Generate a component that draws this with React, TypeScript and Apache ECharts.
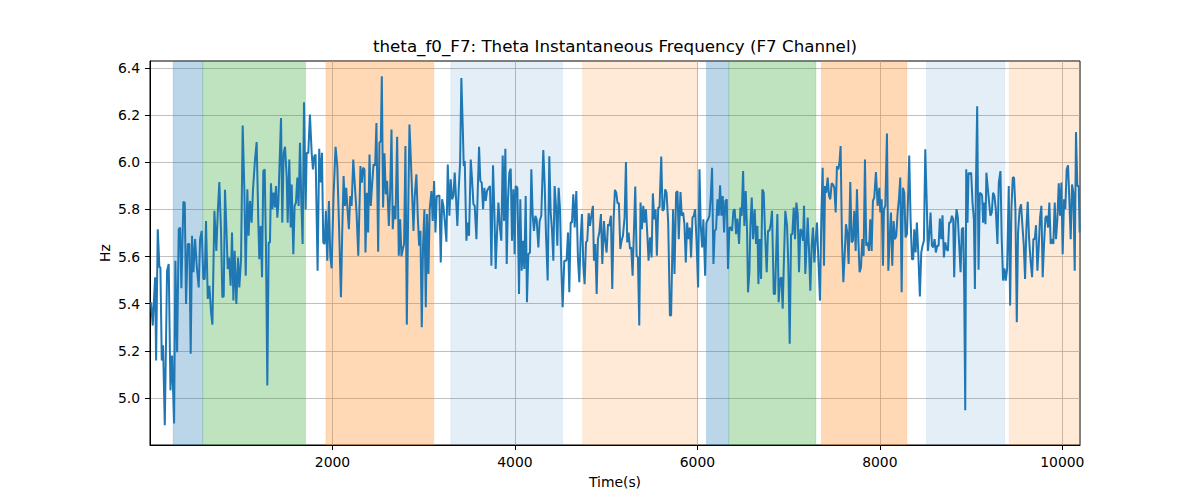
import React, { useEffect, useRef } from "react";
import * as echarts from "echarts";

const TITLE = "theta_f0_F7: Theta Instantaneous Frequency (F7 Channel)";
const X_LABEL = "Time(s)";
const Y_LABEL = "Hz";

const X_MIN = 0;
const X_MAX = 10194;
const X_STEP = 2000;
const Y_MIN = 4.8;
const Y_MAX = 6.43;
const Y_STEP = 0.2;
const xTickValues = [2000, 4000, 6000, 8000, 10000];
const yTickValues = [5.0, 5.2, 5.4, 5.6, 5.8, 6.0, 6.2, 6.4];

const times1 = [12, 30, 56, 67, 85, 103, 114, 129, 143, 162, 187, 205, 224, 242, 264, 278, 297, 315, 330, 344, 366, 381, 395, 414, 432, 446, 461, 476, 494, 512, 534, 549, 567, 585, 600, 614, 633, 651, 669, 684, 706, 727, 742, 760, 779, 793, 808, 822, 837, 852, 866, 884, 899, 914, 928, 946, 965, 979, 998, 1016, 1034, 1049, 1067, 1081, 1096, 1114, 1129, 1151];
const freq1 = [5.406, 5.307, 5.512, 5.159, 5.716, 5.554, 5.554, 5.159, 5.223, 4.884, 5.540, 5.568, 5.032, 5.180, 4.891, 5.582, 5.194, 5.716, 5.723, 5.465, 5.832, 5.829, 5.399, 5.653, 5.653, 5.187, 5.688, 5.533, 5.674, 5.561, 5.469, 5.674, 5.709, 5.505, 5.505, 5.751, 5.420, 5.476, 5.364, 5.311, 5.794, 5.624, 5.780, 5.916, 5.702, 5.427, 5.431, 5.883, 5.723, 5.547, 5.596, 5.476, 5.702, 5.413, 5.624, 5.399, 5.596, 5.469, 5.589, 6.156, 5.885, 5.519, 5.885, 5.688, 5.836, 5.744, 5.885, 6.012];

const times2 = [1169, 1188, 1198, 1213, 1228, 1242, 1257, 1271, 1286, 1301, 1315, 1326, 1341, 1355, 1370, 1381, 1396, 1407, 1436, 1450, 1465, 1480, 1498, 1509, 1527, 1542, 1553, 1571, 1585, 1600, 1615, 1629, 1644, 1658, 1673, 1688, 1706, 1717, 1735, 1753, 1772, 1786, 1801, 1815, 1837, 1855, 1870, 1885, 1899, 1914, 1928, 1943, 1961, 1976, 1991, 2012, 2034, 2053, 2071, 2093, 2107, 2122, 2137, 2151, 2166, 2180, 2195, 2210, 2228, 2246, 2264, 2283];
const freq2 = [6.086, 5.737, 5.589, 5.730, 5.512, 5.963, 5.970, 5.646, 5.053, 5.660, 5.660, 5.911, 5.801, 5.871, 5.808, 5.899, 5.765, 5.829, 6.188, 5.744, 6.040, 6.066, 5.942, 5.744, 6.012, 5.723, 5.906, 5.610, 5.815, 5.829, 5.935, 5.815, 6.083, 5.843, 5.653, 6.255, 5.801, 6.040, 6.040, 6.203, 6.040, 5.970, 6.026, 6.033, 5.540, 6.057, 5.914, 6.040, 5.660, 5.653, 5.794, 5.582, 5.836, 5.603, 5.550, 5.857, 6.066, 5.984, 5.744, 5.427, 5.702, 5.942, 5.815, 5.892, 5.794, 5.716, 5.857, 5.815, 6.012, 5.899, 5.787, 5.603];

const times3 = [2307, 2322, 2336, 2351, 2362, 2377, 2391, 2406, 2420, 2435, 2450, 2468, 2482, 2501, 2515, 2530, 2541, 2555, 2570, 2585, 2599, 2618, 2632, 2647, 2661, 2676, 2691, 2709, 2727, 2742, 2756, 2771, 2785, 2800, 2815, 2829, 2844, 2858, 2873, 2888, 2902, 2920, 2935, 2950, 2964, 2979, 2993, 3008, 3023, 3037, 3052, 3066, 3085, 3099, 3114, 3129, 3143, 3158, 3172, 3187, 3202, 3216, 3234, 3249, 3264, 3282, 3296, 3311, 3326, 3340, 3355, 3369, 3384, 3399, 3413, 3428];
const freq3 = [5.984, 5.914, 5.977, 5.970, 5.617, 5.871, 5.702, 6.033, 5.815, 5.906, 5.991, 5.987, 6.167, 5.620, 6.083, 6.090, 6.365, 5.808, 6.038, 5.864, 5.921, 5.730, 5.871, 6.139, 5.716, 5.815, 5.758, 6.108, 5.603, 5.758, 5.601, 5.632, 5.653, 6.069, 5.311, 5.758, 6.160, 6.026, 5.871, 5.709, 5.857, 5.949, 5.773, 5.646, 5.709, 5.300, 5.646, 5.801, 5.385, 5.780, 5.526, 5.801, 5.878, 5.751, 5.921, 5.702, 5.857, 5.857, 5.860, 5.575, 5.843, 5.815, 5.737, 5.663, 5.991, 5.773, 5.928, 5.843, 5.857, 5.956, 5.843, 5.730, 5.885, 5.998, 6.358, 6.153];

const times4 = [3439, 3450, 3468, 3483, 3497, 3516, 3530, 3545, 3559, 3578, 3592, 3607, 3621, 3636, 3651, 3665, 3680, 3694, 3713, 3727, 3742, 3760, 3775, 3789, 3804, 3819, 3837, 3851, 3866, 3881, 3895, 3910, 3924, 3939, 3954, 3968, 3983, 3997, 4008, 4027, 4045, 4059, 4074, 4089, 4103, 4118, 4132, 4147, 4165, 4180, 4195, 4209, 4224, 4238, 4257, 4271, 4289, 4311, 4326, 4341, 4359, 4377, 4392, 4406, 4421, 4435, 4450, 4465, 4479, 4494, 4508, 4523, 4541, 4560];
const freq4 = [5.984, 6.005, 5.667, 5.744, 5.688, 6.012, 5.928, 5.822, 5.815, 5.674, 5.871, 6.066, 5.921, 5.914, 5.801, 5.892, 5.836, 5.878, 5.892, 5.899, 5.561, 5.987, 5.787, 5.547, 5.702, 5.829, 5.716, 5.667, 6.029, 5.751, 6.057, 5.568, 5.843, 5.956, 5.973, 5.667, 5.885, 5.610, 5.899, 5.892, 5.441, 5.843, 5.540, 5.667, 5.547, 5.857, 5.406, 5.610, 5.617, 5.970, 5.773, 5.709, 5.773, 5.758, 5.639, 5.751, 5.773, 6.052, 5.906, 5.688, 5.498, 6.026, 5.787, 5.716, 5.582, 5.899, 5.815, 5.646, 5.892, 5.801, 5.561, 5.385, 5.582, 5.582];

const times5 = [4567, 4582, 4596, 4611, 4625, 4640, 4655, 4673, 4691, 4706, 4720, 4735, 4750, 4764, 4779, 4793, 4808, 4823, 4837, 4855, 4866, 4881, 4896, 4910, 4925, 4943, 4958, 4976, 4990, 5005, 5020, 5034, 5052, 5067, 5082, 5096, 5111, 5125, 5140, 5155, 5169, 5184, 5202, 5217, 5231, 5246, 5261, 5275, 5290, 5304, 5319, 5334, 5348, 5363, 5377, 5392, 5407, 5421, 5436, 5450, 5465, 5480, 5498, 5512, 5527, 5542, 5556, 5571, 5585, 5604, 5618, 5633, 5647, 5662, 5680, 5699];
const freq5 = [5.589, 5.702, 5.448, 5.744, 5.744, 5.864, 5.723, 5.878, 5.589, 5.491, 5.674, 5.780, 5.561, 5.483, 5.660, 5.667, 5.784, 5.730, 5.773, 5.815, 5.582, 5.653, 5.441, 5.674, 5.702, 5.780, 5.568, 5.751, 5.667, 5.617, 5.737, 5.730, 5.773, 5.462, 5.758, 5.883, 5.871, 5.826, 5.826, 5.632, 5.667, 5.688, 5.765, 6.001, 5.660, 5.702, 5.632, 5.639, 5.519, 5.702, 5.897, 5.603, 5.596, 5.307, 5.829, 5.716, 5.815, 5.744, 5.801, 5.702, 5.582, 5.681, 5.596, 5.868, 5.758, 5.801, 5.603, 5.808, 5.808, 6.024, 5.794, 5.801, 5.885, 5.871, 5.744, 5.350];

const times6 = [5712, 5734, 5749, 5767, 5782, 5796, 5815, 5829, 5844, 5858, 5873, 5888, 5902, 5917, 5931, 5946, 5961, 5975, 5990, 6008, 6023, 6037, 6052, 6066, 6085, 6099, 6117, 6132, 6147, 6161, 6176, 6190, 6205, 6220, 6234, 6249, 6263, 6278, 6293, 6307, 6322, 6336, 6351, 6366, 6380, 6395, 6409, 6424, 6439, 6457, 6472, 6486, 6501, 6515, 6530, 6545, 6555, 6570, 6581, 6596, 6610, 6628, 6643, 6658, 6669, 6683, 6698, 6712, 6727, 6742, 6760, 6774, 6789, 6804, 6818, 6837];
const freq6 = [5.350, 5.801, 5.526, 5.871, 5.878, 5.674, 5.874, 5.773, 5.787, 5.737, 5.575, 5.744, 5.674, 5.723, 5.596, 5.765, 5.773, 5.801, 5.674, 5.469, 5.970, 5.730, 5.639, 5.758, 5.519, 5.744, 5.758, 5.773, 5.857, 5.977, 5.568, 5.709, 5.716, 5.843, 5.773, 5.902, 5.773, 5.857, 5.702, 5.836, 5.843, 5.547, 5.723, 5.723, 5.709, 5.794, 5.801, 5.695, 5.761, 5.653, 5.808, 5.773, 5.963, 5.730, 5.878, 5.702, 5.448, 5.533, 5.730, 5.850, 5.674, 5.801, 5.653, 5.730, 5.483, 5.674, 5.505, 5.885, 5.871, 5.695, 5.533, 5.709, 5.709, 5.737, 5.794, 5.441];

const times7 = [6851, 6866, 6877, 6891, 6906, 6921, 6935, 6950, 6964, 6983, 6997, 7012, 7027, 7041, 7056, 7070, 7085, 7100, 7114, 7129, 7143, 7158, 7169, 7183, 7198, 7209, 7224, 7238, 7253, 7267, 7282, 7297, 7311, 7326, 7344, 7359, 7373, 7388, 7399, 7413, 7428, 7443, 7457, 7472, 7486, 7501, 7516, 7530, 7545, 7559, 7570, 7585, 7600, 7614, 7629, 7643, 7658, 7676, 7691, 7705, 7720, 7735, 7749, 7764, 7778, 7793, 7808, 7822, 7837, 7851, 7866, 7881, 7895, 7910, 7924, 7939, 7957, 7976];
const freq7 = [5.441, 5.646, 5.780, 5.406, 5.505, 5.512, 5.378, 5.603, 5.794, 5.730, 5.561, 5.230, 5.695, 5.695, 5.808, 5.674, 5.829, 5.780, 5.533, 5.716, 5.709, 5.667, 5.815, 5.526, 5.653, 5.765, 5.624, 5.455, 5.646, 5.723, 5.575, 5.674, 5.744, 5.589, 5.413, 5.773, 5.977, 5.561, 5.899, 5.871, 5.935, 5.857, 5.843, 5.911, 5.906, 5.892, 5.787, 5.984, 5.970, 6.005, 6.069, 5.667, 5.491, 5.603, 5.737, 5.702, 5.568, 5.916, 5.660, 5.667, 5.794, 5.624, 5.885, 5.674, 5.533, 5.554, 5.674, 5.603, 6.012, 5.646, 5.660, 5.624, 5.758, 5.624, 5.836, 5.850, 5.959, 5.815];

const times8 = [7994, 8005, 8020, 8034, 8045, 8060, 8078, 8093, 8107, 8122, 8136, 8151, 8166, 8180, 8195, 8209, 8224, 8239, 8253, 8268, 8282, 8297, 8312, 8322, 8337, 8352, 8366, 8377, 8392, 8406, 8421, 8439, 8454, 8468, 8483, 8498, 8512, 8527, 8541, 8556, 8571, 8585, 8600, 8614, 8629, 8644, 8658, 8673, 8687, 8702, 8717, 8731, 8746, 8760, 8775, 8790, 8804, 8815, 8830, 8841, 8855, 8870, 8885, 8899, 8914, 8925, 8936, 8947, 8961, 8972, 8987, 9001, 9016, 9031, 9042, 9052, 9067, 9082, 9096, 9115];
const freq8 = [5.892, 5.787, 5.843, 5.561, 5.801, 5.815, 6.122, 5.540, 5.674, 5.787, 5.561, 5.751, 5.674, 5.688, 5.787, 5.843, 5.935, 5.448, 5.892, 5.871, 5.681, 5.695, 5.885, 6.029, 5.758, 5.589, 5.589, 5.716, 5.617, 5.744, 5.617, 5.431, 5.617, 5.646, 5.667, 6.055, 5.857, 5.624, 5.688, 5.787, 5.646, 5.639, 5.674, 5.617, 5.646, 5.646, 5.761, 5.674, 5.775, 5.596, 5.660, 5.632, 5.624, 5.744, 5.744, 5.773, 5.758, 5.512, 5.744, 5.801, 5.765, 5.646, 5.533, 5.716, 5.723, 5.448, 4.948, 5.970, 5.744, 5.956, 5.949, 5.956, 5.829, 5.758, 5.462, 5.871, 6.238, 5.544, 5.871, 5.864];

const times9 = [9121, 9132, 9143, 9158, 9168, 9183, 9198, 9212, 9227, 9241, 9256, 9271, 9289, 9304, 9322, 9336, 9351, 9366, 9380, 9395, 9413, 9428, 9442, 9457, 9471, 9486, 9501, 9515, 9533, 9548, 9563, 9577, 9592, 9606, 9621, 9636, 9654, 9669, 9683, 9698, 9712, 9727, 9742, 9756, 9771, 9785, 9800, 9815, 9829, 9844, 9858, 9873, 9888, 9902, 9917, 9931, 9946, 9961, 9975, 9990, 10004, 10019, 10033, 10048, 10063, 10077, 10092, 10107, 10121, 10136, 10150, 10165, 10180, 10190];
const freq9 = [5.857, 5.744, 5.829, 5.737, 5.956, 5.892, 5.829, 5.773, 5.787, 5.871, 5.857, 5.801, 5.653, 5.914, 5.963, 5.674, 5.498, 5.550, 5.498, 5.547, 5.899, 5.392, 5.801, 5.935, 5.935, 5.801, 5.321, 5.702, 5.801, 5.822, 5.730, 5.653, 5.505, 5.716, 5.832, 5.674, 5.575, 5.512, 5.674, 5.674, 5.733, 5.540, 5.646, 5.765, 5.815, 5.512, 5.653, 5.765, 5.773, 5.723, 5.829, 5.653, 5.674, 5.653, 5.829, 5.674, 5.758, 5.911, 5.773, 5.914, 5.610, 5.843, 5.801, 5.970, 5.987, 5.843, 5.674, 5.906, 5.871, 5.540, 6.128, 5.899, 5.899, 5.702];

const times = [...times1, ...times2, ...times3, ...times4, ...times5, ...times6, ...times7, ...times8, ...times9];
const freq = [...freq1, ...freq2, ...freq3, ...freq4, ...freq5, ...freq6, ...freq7, ...freq8, ...freq9];

// Shaded epochs
const bandStarts = [253, 578, 1928, 3297, 4742, 6099, 6344, 7359, 8512, 9417];
const bandEnds = [578, 1706, 3111, 4523, 5998, 6344, 7300, 8297, 9370, 10194];
const bandKinds = ["blue", "green", "orange", "lightblue", "lightorange", "blue", "green", "orange", "lightblue", "lightorange"];

const bandFill: Record<string, string> = {
  blue: "rgba(31,119,180,0.3)",
  green: "rgba(44,160,44,0.3)",
  orange: "rgba(255,127,14,0.3)",
  lightblue: "rgba(31,119,180,0.12)",
  lightorange: "rgba(255,127,14,0.16)",
};
const bandEdge: Record<string, string> = {
  blue: "rgba(31,119,180,0.15)",
  green: "rgba(44,160,44,0.15)",
  orange: "rgba(255,127,14,0.15)",
  lightblue: "rgba(31,119,180,0.06)",
  lightorange: "rgba(255,127,14,0.08)",
};

const FONT = "DejaVu Sans";

export default function App() {
  const ref = useRef<HTMLDivElement>(null);
  useEffect(() => {
    if (!ref.current) return;
    const chart = echarts.init(ref.current, null, { renderer: "svg" });
    const lineData = times.map((t, i) => [t, freq[i]]);
    const areas = bandStarts.map((s, i) => [
      {
        xAxis: s,
        itemStyle: {
          color: bandFill[bandKinds[i]],
          borderColor: bandEdge[bandKinds[i]],
          borderWidth: 1,
        },
      },
      { xAxis: bandEnds[i] },
    ]);
    chart.setOption({
      animation: false,
      backgroundColor: "#ffffff",
      textStyle: { fontFamily: FONT },
      title: {
        text: TITLE,
        left: 615,
        top: 37,
        textAlign: "center",
        padding: 0,
        textStyle: { fontFamily: FONT, fontSize: 16.7, fontWeight: "normal", color: "#000" },
      },
      grid: {
        left: 150,
        right: 120,
        top: 61,
        bottom: 55,
        show: true,
        borderColor: "#000",
        borderWidth: 1,
        backgroundColor: "transparent",
      },
      xAxis: {
        type: "value",
        min: X_MIN,
        max: X_MAX,
        interval: X_STEP,
        name: X_LABEL,
        nameLocation: "middle",
        nameGap: 30,
        nameTextStyle: { fontFamily: FONT, fontSize: 13.9, color: "#000" },
        axisLine: { show: true, lineStyle: { color: "#000", width: 1 } },
        axisTick: { show: true, length: 5, inside: false, customValues: xTickValues, lineStyle: { color: "#000", width: 1 } },
        axisLabel: {
          show: true,
          margin: 10,
          customValues: xTickValues,
          fontFamily: FONT,
          fontSize: 13.9,
          color: "#000",
          formatter: (v: number) => String(Math.round(v)),
        },
        splitLine: { show: true, lineStyle: { color: "#b0b0b0", width: 0.8 } },
      },
      yAxis: {
        type: "value",
        min: Y_MIN,
        max: Y_MAX,
        interval: Y_STEP,
        name: Y_LABEL,
        nameLocation: "middle",
        nameGap: 38,
        nameRotate: 90,
        nameMoveOverlap: false,
        nameTextStyle: { fontFamily: FONT, fontSize: 13.9, color: "#000" },
        axisLine: { show: true, lineStyle: { color: "#000", width: 1 } },
        axisTick: { show: true, length: 5, inside: false, customValues: yTickValues, lineStyle: { color: "#000", width: 1 } },
        axisLabel: {
          show: true,
          margin: 10,
          customValues: yTickValues,
          fontFamily: FONT,
          fontSize: 13.9,
          color: "#000",
          formatter: (v: number) => v.toFixed(1),
        },
        splitLine: { show: true, lineStyle: { color: "#b0b0b0", width: 0.8 } },
      },
      series: [
        {
          type: "line",
          data: [],
          z: 1,
          silent: true,
          markArea: { silent: true, data: areas },
        },
        {
          type: "line",
          data: lineData,
          z: 3,
          showSymbol: false,
          symbol: "none",
          lineStyle: { color: "#1f77b4", width: 2 },
          itemStyle: { color: "#1f77b4" },
          silent: true,
        },
      ],
    });
    return () => chart.dispose();
  }, []);
  return (
    <div
      ref={ref}
      style={{ position: "fixed", left: 0, top: 0, width: 1200, height: 500, background: "#fff" }}
    />
  );
}
